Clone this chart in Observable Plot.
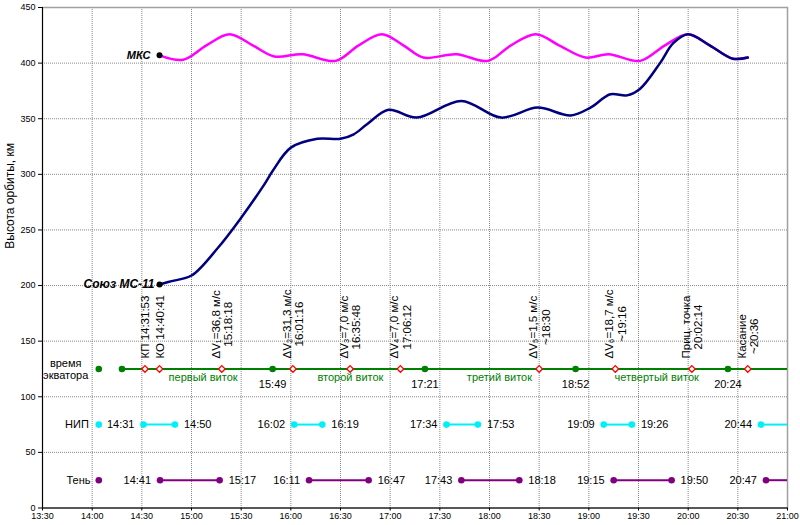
<!DOCTYPE html>
<html><head><meta charset="utf-8">
<script src="https://cdn.jsdelivr.net/npm/d3@7"></script>
<script src="https://cdn.jsdelivr.net/npm/@observablehq/plot@0.6"></script>
<style>body{margin:0;background:#fff;font-family:"Liberation Sans",Arial,sans-serif}</style>
</head><body><div id="chart"></div>
<script>
// ---- data ----
const issTimes = ["14:40:41","14:55","15:09","15:23","15:37","15:50","16:07","16:27","16:41","16:55","17:08","17:20","17:40","17:59","18:13","18:28","18:42","18:58","19:12","19:31","19:46","20:00","20:13","20:27","20:36"];
const issAlt   = [407,403,416,426,416,406,408,402,416,426,416,405,408,402,416,426,416,405,408,402,416,426,416,404,405];
const soyuzTimes = ["14:40:41","14:48","15:00","15:16","15:30","15:44","15:49","16:00","16:16","16:30","16:38","16:46","16:59","17:16","17:43","18:07","18:29","18:49","19:01","19:13","19:23","19:31","19:43","19:51","20:00","20:13","20:27","20:36"];
const soyuzAlt   = [201,204,209,234,261,291,303,324,332,332,336,345,358,351,366,351,360,353,360,372,371,377,400,418,426,416,404,405];
const seriesNames = ["МКС","Союз МС-11"];

const equatorTimes = ["14:18","15:49","17:21","18:52","20:24"];
const equatorLabels = ["","15:49","17:21","18:52","20:24"];
const orbitNames = ["первый виток","второй виток","третий виток","четвертый виток"];
const orbitLabelTimes = ["15:07","16:36","18:06","19:41"];

const eventTimes = ["14:31:53","14:40:41","15:18:18","16:01:16","16:35:48","17:06:12","18:30","19:16","20:02:14","20:36"];
const eventLabels = ["КП 14:31:53","КО 14:40:41","ΔV₁=36,8 м/с\n15:18:18","ΔV₂=31,3 м/с\n16:01:16","ΔV₃=7,0 м/с\n16:35:48","ΔV₄=7,0 м/с\n17:06:12","ΔV₅=1,5 м/с\n~18:30","ΔV₆=18,7 м/с\n~19:16","Приц. точка\n20:02:14","Касание\n~20:36"];

const nipStart = ["14:31","16:02","17:34","19:09","20:44"];
const nipEnd   = ["14:50","16:19","17:53","19:26","21:00"];
const shadowStart = ["14:41","16:11","17:43","19:15","20:47"];
const shadowEnd   = ["15:17","16:47","18:18","19:50","21:00"];

const rowNames = ["время\nэкватора","НИП","Тень"];
const rowLevels = [125, 75, 25];
const rowLegendTime = "14:04";
const rowNameTimes = ["13:44","13:58","13:59"];
const eventLabelLevel = 134.4;
const orbitLabelLevel = 117.4;
const equatorLabelLevel = 111;

const xDomain = ["13:30","21:00"];
const xTickStep = 30;
const yTicks = [0,50,100,150,200,250,300,350,400,450];
const yTitle = "Высота орбиты, км";

// ---- helpers ----
const toMin = s => { const p = s.replace("~","").split(":").map(Number); return p[0]*60 + p[1] + (p[2]||0)/60; };
const fmt = m => `${Math.floor(m/60)}:${String(Math.round(m%60)).padStart(2,"0")}`;
const x0 = toMin(xDomain[0]), x1 = toMin(xDomain[1]);
const xTicks = d3.range(x0, x1 + 1, xTickStep);

const iss = issTimes.map((t,i)=>({t:toMin(t), v:issAlt[i]}));
const soyuz = soyuzTimes.map((t,i)=>({t:toMin(t), v:soyuzAlt[i]}));
const equator = equatorTimes.map((t,i)=>({t:toMin(t), label:equatorLabels[i]}));
const orbits = orbitNames.map((n,i)=>({t:toMin(orbitLabelTimes[i]), name:n}));
const events = eventTimes.map((t,i)=>({t:toMin(t), label:eventLabels[i]}));
const nip = nipStart.map((s,i)=>({s:toMin(s), e:toMin(nipEnd[i]), sl:s, el: toMin(nipEnd[i])>=x1 ? "" : nipEnd[i]}));
const shadow = shadowStart.map((s,i)=>({s:toMin(s), e:toMin(shadowEnd[i]), sl:s, el: toMin(shadowEnd[i])>=x1 ? "" : shadowEnd[i]}));

const FONT = '"Liberation Sans", Arial, sans-serif';
const ctx = document.createElement("canvas").getContext("2d");
const EV_FS = 11.5;
ctx.font = `${EV_FS}px ${FONT}`;
const longest = s => d3.max(s.split("\n"), l => ctx.measureText(l).width);

const green = "#008000", cyan = "#00f0f8", purple = "#800080";

const eventTextMarks = events.map(e => Plot.text([e], {
  x:"t", y:()=>eventLabelLevel, text:"label", rotate:-90, textAnchor:"middle",
  lineHeight:1.1, fontSize:EV_FS, fill:"#000", dy:-longest(e.label)/2
}));

const segMarks = (data, level, color) => [
  Plot.ruleY(data, {y:()=>level, x1:"s", x2:"e", stroke:color, strokeWidth:2}),
  Plot.dot(data, {x:"s", y:()=>level, r:3.3, fill:color}),
  Plot.dot(data.filter(d=>d.el), {x:"e", y:()=>level, r:3.3, fill:color}),
  Plot.text(data, {x:"s", y:()=>level, text:"sl", textAnchor:"end", dx:-9, fontSize:11, fill:"#000"}),
  Plot.text(data, {x:"e", y:()=>level, text:"el", textAnchor:"start", dx:9, fontSize:11, fill:"#000"})
];

const chart = Plot.plot({
  width: 800, height: 525,
  marginLeft: 42, marginRight: 13, marginTop: 7, marginBottom: 17.5,
  style: {fontFamily: FONT, fontSize: "9px", background:"#fff", overflow:"visible"},
  x: {domain:[x0,x1], label:null},
  y: {domain:[0,450], label:null},
  marks: [
    Plot.gridX(xTicks, {stroke:"#888", strokeOpacity:1, strokeDasharray:"1,1"}),
    Plot.gridY(yTicks, {stroke:"#888", strokeOpacity:1, strokeDasharray:"1,1"}),
    Plot.frame({stroke:"#a0a0a0", strokeWidth:1.5}),
    Plot.axisX(xTicks, {tickFormat:fmt, tickSize:3, tickPadding:2, fontSize:9, label:null}),
    Plot.axisY(yTicks, {tickSize:4, tickPadding:3, fontSize:9, label:null}),
    Plot.ruleX([x0], {stroke:"#000"}),
    Plot.ruleY([0], {stroke:"#000"}),
    Plot.text([yTitle], {frameAnchor:"left", rotate:-90, dx:-32, dy:-9, fontSize:12, fill:"#000"}),

    // equator row
    Plot.ruleY([0], {y:()=>rowLevels[0], x1:()=>toMin(equatorTimes[0]), x2:()=>x1, stroke:green, strokeWidth:2}),
    Plot.dot([rowLegendTime], {x:d=>toMin(d), y:()=>rowLevels[0], r:3.3, fill:green}),
    Plot.dot(equator, {x:"t", y:()=>rowLevels[0], r:3.3, fill:green}),
    Plot.text(equator, {x:"t", y:()=>equatorLabelLevel, text:"label", fontSize:11, fill:"#000"}),
    Plot.text(orbits, {x:"t", y:()=>orbitLabelLevel, text:"name", fontSize:11, fill:green}),
    Plot.dot(events, {x:"t", y:()=>rowLevels[0], symbol:"diamond2", r:3, stroke:"#ff0000", fill:"#fff", strokeWidth:1.3}),
    ...eventTextMarks,

    // НИП / Тень rows
    Plot.dot([rowLegendTime], {x:d=>toMin(d), y:()=>rowLevels[1], r:3.3, fill:cyan}),
    ...segMarks(nip, rowLevels[1], cyan),
    Plot.dot([rowLegendTime], {x:d=>toMin(d), y:()=>rowLevels[2], r:3.3, fill:purple}),
    ...segMarks(shadow, rowLevels[2], purple),

    // row names
    Plot.text([0], {x:()=>toMin(rowNameTimes[0]), y:()=>rowLevels[0], text:()=>rowNames[0], textAnchor:"middle", lineHeight:1.1, fontSize:11, fill:"#000"}),
    Plot.text([1,2], {x:i=>toMin(rowNameTimes[i]), y:i=>rowLevels[i], text:i=>rowNames[i], textAnchor:"end", fontSize:11, fill:"#000"}),

    // orbit altitude curves
    Plot.line(iss, {x:"t", y:"v", stroke:"#ff00ff", strokeWidth:2.5, curve:"catmull-rom"}),
    Plot.line(soyuz, {x:"t", y:"v", stroke:"#000080", strokeWidth:2.5, curve:"catmull-rom"}),
    Plot.dot([iss[0], soyuz[0]], {x:"t", y:"v", r:3, fill:"#000"}),
    Plot.text([iss[0]], {x:"t", y:"v", text:()=>seriesNames[0], textAnchor:"end", dx:-9, fontSize:11, fontWeight:"bold", fontStyle:"italic", fill:"#000"}),
    Plot.text([soyuz[0]], {x:"t", y:"v", text:()=>seriesNames[1], textAnchor:"end", dx:-5, fontSize:12, fontWeight:"bold", fontStyle:"italic", fill:"#000"})
  ]
});
document.getElementById("chart").appendChild(chart);
</script>
</body></html>
